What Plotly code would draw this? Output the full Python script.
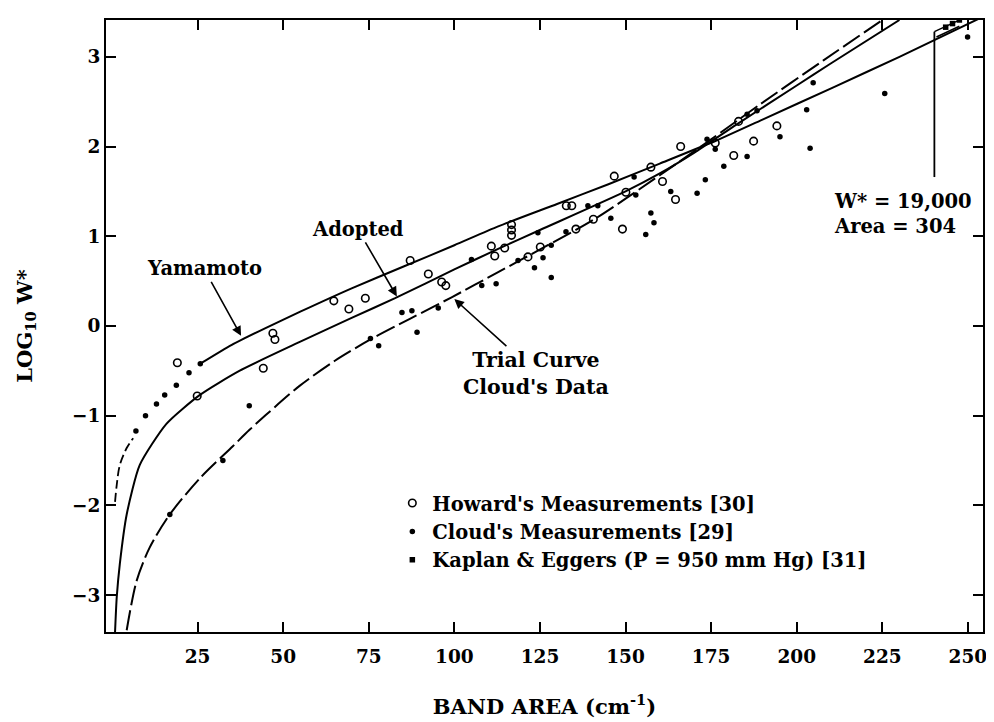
import plotly.graph_objects as go

# ---------------- data ----------------
x_ticks = [25, 50, 75, 100, 125, 150, 175, 200, 225, 250]
y_ticks = [-3, -2, -1, 0, 1, 2, 3]

howard_x = [19.1, 24.9, 44.2, 47.0, 47.6, 64.8, 69.2, 74.0, 87.1, 92.4, 96.3, 97.5,
            110.8, 111.8, 114.7, 116.7, 116.7, 116.7, 121.5, 125.1, 132.7, 134.3,
            135.5, 140.6, 146.7, 149.1, 150.1, 157.4, 160.8, 164.6, 166.1, 176.2,
            181.6, 183.0, 187.4, 194.2]
howard_y = [-0.41, -0.78, -0.47, -0.08, -0.15, 0.28, 0.19, 0.31, 0.73, 0.58, 0.49, 0.45,
            0.89, 0.78, 0.87, 1.13, 1.07, 1.01, 0.77, 0.88, 1.34, 1.34,
            1.08, 1.19, 1.67, 1.08, 1.49, 1.77, 1.61, 1.41, 2.00, 2.04,
            1.90, 2.28, 2.06, 2.23]

cloud_x = [7.0, 9.8, 13.0, 15.4, 18.8, 22.5, 25.8, 16.9, 32.4, 40.1,
           75.5, 77.9, 84.7, 87.6, 89.1, 95.3, 105.0, 108.0, 112.2, 118.6,
           123.4, 124.4, 125.9, 128.3, 128.3, 132.6, 139.0, 141.9, 145.7, 152.5,
           153.0, 155.9, 157.4, 158.3, 163.2, 170.9, 173.3, 173.8, 176.2, 178.7,
           185.5, 185.5, 188.4, 195.1, 202.9, 203.9, 204.8, 225.7, 249.9]
cloud_y = [-1.17, -1.00, -0.87, -0.77, -0.66, -0.52, -0.42, -2.10, -1.50, -0.89,
           -0.14, -0.22, 0.15, 0.17, -0.07, 0.20, 0.74, 0.45, 0.47, 0.73,
           0.65, 1.04, 0.76, 0.90, 0.54, 1.05, 1.34, 1.34, 1.20, 1.66,
           1.46, 1.02, 1.26, 1.15, 1.50, 1.48, 1.63, 2.08, 1.97, 1.78,
           1.89, 2.36, 2.40, 2.11, 2.41, 1.98, 2.71, 2.59, 3.22]

kaplan_x = [243.5, 245.5, 247.5]
kaplan_y = [3.33, 3.37, 3.41]

# Yamamoto curve: dashed extrapolation near the origin, then solid
yam_ext_x = [0.9, 1.4, 2.3, 4.3, 6.2]
yam_ext_y = [-1.96, -1.77, -1.55, -1.36, -1.25]
yam_x = [25.8, 35, 45, 55, 70, 85, 100, 112.8, 130, 145, 160, 176.7, 190, 210.7,
         230, 253.5]
yam_y = [-0.42, -0.21, -0.02, 0.16, 0.42, 0.66, 0.90, 1.11, 1.36, 1.58, 1.81, 2.07,
         2.30, 2.66, 3.00, 3.43]

# Adopted curve (solid)
adopt_x = [0.9, 1.4, 2.3, 4.3, 8.1, 15.9, 25.6, 37.2, 54.7, 70, 82.7, 100, 112.8,
           125, 150, 160, 170, 182.6, 200, 209.7, 230]
adopt_y = [-3.41, -3.02, -2.65, -2.10, -1.55, -1.09, -0.77, -0.50, -0.18, 0.09, 0.31,
           0.63, 0.86, 1.07, 1.50, 1.70, 1.93, 2.25, 2.68, 2.92, 3.41]

# Trial curve, Cloud's data (dashed)
trial_x = [4.3, 7.2, 11, 16.9, 25.6, 35.3, 40.1, 45, 54.7, 65, 75.5, 87, 99.2, 112.8,
           127.3, 140.9, 160, 175, 189.3, 207.8, 225]
trial_y = [-3.39, -2.84, -2.47, -2.10, -1.70, -1.34, -1.16, -0.99, -0.67, -0.39, -0.15,
           0.08, 0.32, 0.60, 0.90, 1.19, 1.68, 2.08, 2.47, 2.96, 3.41]

FONT = "DejaVu Serif"

fig = go.Figure()

fig.add_trace(go.Scatter(x=yam_ext_x, y=yam_ext_y, mode="lines", showlegend=False,
                         line=dict(color="black", width=1.8, dash="9px,4px", shape="spline")))
fig.add_trace(go.Scatter(x=yam_x, y=yam_y, mode="lines", showlegend=False,
                         line=dict(color="black", width=2, shape="spline", smoothing=0.6)))
fig.add_trace(go.Scatter(x=adopt_x, y=adopt_y, mode="lines", showlegend=False,
                         line=dict(color="black", width=2, shape="spline", smoothing=0.6)))
fig.add_trace(go.Scatter(x=trial_x, y=trial_y, mode="lines", showlegend=False,
                         line=dict(color="black", width=2, dash="20px,5px",
                                   shape="spline", smoothing=0.8)))

fig.add_trace(go.Scatter(x=howard_x, y=howard_y, mode="markers",
                         name="Howard's Measurements [30]",
                         marker=dict(symbol="circle-open", size=7.5, color="black",
                                     line=dict(width=1.6, color="black"))))
fig.add_trace(go.Scatter(x=cloud_x, y=cloud_y, mode="markers",
                         name="Cloud's Measurements [29]",
                         marker=dict(symbol="circle", size=5.5, color="black")))
fig.add_trace(go.Scatter(x=kaplan_x, y=kaplan_y, mode="markers",
                         name="Kaplan & Eggers (P = 950 mm Hg) [31]",
                         marker=dict(symbol="square", size=5.5, color="black")))

ann_font = dict(family=FONT, size=19.5, color="black", weight="bold")
annotations = [
    dict(x=37.7, y=-0.11, text="Yamamoto", ax=-37, ay=-67, showarrow=True,
         arrowhead=2, arrowsize=1.2, arrowwidth=1.6, arrowcolor="black", font=ann_font),
    dict(x=83.2, y=0.33, text="Adopted", ax=-39, ay=-67, showarrow=True,
         arrowhead=2, arrowsize=1.2, arrowwidth=1.6, arrowcolor="black", font=ann_font),
    dict(x=100, y=0.3, text="Trial Curve<br>Cloud's Data", ax=82, ay=74, showarrow=True,
         arrowhead=2, arrowsize=1.2, arrowwidth=1.6, arrowcolor="black",
         font=dict(family=FONT, size=20.5, color="black", weight="bold")),
    dict(x=210.2, y=1.25, text="W* = 19,000<br>Area = 304", showarrow=False,
         xanchor="left", yanchor="middle", align="left", font=ann_font),
]

shapes = [
    dict(type="line", xref="x", yref="y", x0=240.2, y0=1.66, x1=240.2, y1=3.28,
         line=dict(color="black", width=1.8)),
    dict(type="line", xref="x", yref="y", x0=240.2, y0=3.28, x1=247.0, y1=3.40,
         line=dict(color="black", width=1.5)),
    dict(type="line", xref="x", yref="y", x0=240.8, y0=3.22, x1=247.5, y1=3.34,
         line=dict(color="black", width=1.5)),
]

axis_common = dict(showline=True, linecolor="black", linewidth=2, mirror="ticks",
                   ticks="inside", ticklen=10, tickwidth=2, tickcolor="black",
                   showgrid=False, zeroline=False,
                   tickfont=dict(family=FONT, size=18.5, color="black", weight="bold"))

# The page body adds an 8px margin, so the figure is sized to fit the 994x722 window.
fig.update_layout(
    width=986, height=714,
    margin=dict(l=98, r=7, t=12, b=87),
    paper_bgcolor="white", plot_bgcolor="white",
    font=dict(family=FONT, size=19, color="black", weight="bold"),
    xaxis=dict(range=[-1.74, 254.4], tickvals=x_ticks, ticklabelstandoff=7,
               title=dict(text="BAND AREA (cm<sup>-1</sup>)", standoff=33,
                          font=dict(family=FONT, size=21, color="black", weight="bold")),
               **axis_common),
    yaxis=dict(range=[-3.41, 3.41], tickvals=y_ticks, ticklabelstandoff=0,
               title=dict(text="LOG<sub>10</sub> W*", standoff=34,
                          font=dict(family=FONT, size=21, color="black", weight="bold")),
               **axis_common),
    legend=dict(x=0.3265, y=0.242, xanchor="left", yanchor="top",
                bgcolor="rgba(0,0,0,0)", borderwidth=0, tracegroupgap=0,
                itemwidth=30,
                font=dict(family=FONT, size=19.5, color="black", weight="bold")),
    annotations=annotations,
    shapes=shapes,
)

fig.write_html("out.html")
